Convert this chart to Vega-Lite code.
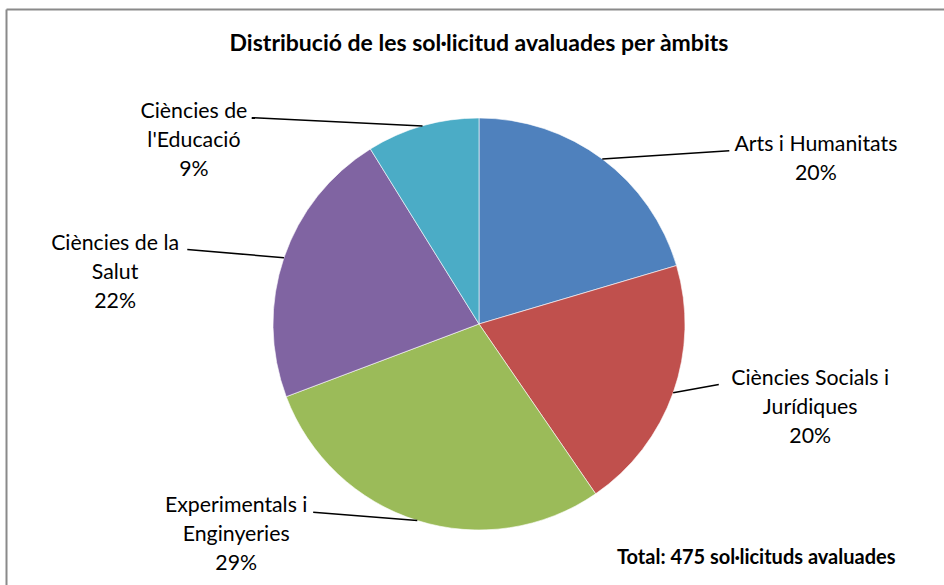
{
  "$schema": "https://vega.github.io/schema/vega-lite/v6.json",
  "width": 938,
  "height": 576,
  "autosize": {"type": "none"},
  "padding": {"left": 6, "top": 9, "right": 0, "bottom": 0},
  "background": "white",
  "config": {"view": {"stroke": null}, "font": "Lato"},
  "title": {
    "text": "Distribució de les sol·licitud avaluades per àmbits",
    "font": "Lato",
    "fontSize": 23,
    "fontWeight": "bold",
    "color": "black",
    "anchor": "middle",
    "baseline": "alphabetic",
    "offset": -65,
    "dx": 4
  },
  "data": {
    "values": [
      {"ambit": "Arts i Humanitats", "etiqueta": "Arts i Humanitats", "n": 97, "ordre": 1},
      {"ambit": "Ciències Socials i Jurídiques", "etiqueta": "Ciències Socials i\nJurídiques", "n": 95, "ordre": 2},
      {"ambit": "Experimentals i Enginyeries", "etiqueta": "Experimentals i\nEnginyeries", "n": 137, "ordre": 3},
      {"ambit": "Ciències de la Salut", "etiqueta": "Ciències de la\nSalut", "n": 104, "ordre": 4},
      {"ambit": "Ciències de l'Educació", "etiqueta": "Ciències de\nl'Educació", "n": 42, "ordre": 5}
    ]
  },
  "transform": [
    {"joinaggregate": [{"op": "sum", "field": "n", "as": "total"}]},
    {"window": [{"op": "sum", "field": "n", "as": "cum"}], "sort": [{"field": "ordre", "order": "ascending"}], "frame": [null, 0]},
    {"calculate": "2 * PI * (datum.cum - datum.n / 2) / datum.total", "as": "a"},
    {"calculate": "sin(datum.a)", "as": "ex"},
    {"calculate": "cos(datum.a)", "as": "ey"},
    {"calculate": "datum.ex >= 0 ? 1 : -1", "as": "side"},
    {"calculate": "datum.ey >= 0 ? 0.674 + 0.453 * datum.ey : 0.55 - 0.345 * datum.ey", "as": "c"},
    {"calculate": "datum.ex + datum.side * datum.c", "as": "lx"},
    {"calculate": "datum.ey + 0.04", "as": "ly"},
    {"calculate": "length(split(datum.etiqueta, '\\n')[0])", "as": "nc"},
    {"calculate": "datum.ex + datum.side * (datum.c - (datum.nc * 4.8 + 5) / 206)", "as": "ex2"},
    {"calculate": "datum.etiqueta + '\\n' + format(datum.n / datum.total, '.0%')", "as": "txt"}
  ],
  "layer": [
    {
      "mark": {"type": "arc", "radius": 206, "stroke": "white", "strokeWidth": 0.6},
      "encoding": {
        "theta": {"field": "n", "type": "quantitative", "stack": true},
        "order": {"field": "ordre", "type": "quantitative"},
        "color": {
          "field": "ambit",
          "type": "nominal",
          "scale": {
            "domain": ["Arts i Humanitats", "Ciències Socials i Jurídiques", "Experimentals i Enginyeries", "Ciències de la Salut", "Ciències de l'Educació"],
            "range": ["#4F81BD", "#C0504D", "#9BBB59", "#8064A2", "#4BACC6"]
          },
          "legend": null
        },
        "x": {
          "datum": 0,
          "type": "quantitative",
          "scale": {"domain": [-2.2961, 2.2573], "nice": false, "zero": false},
          "axis": {"orient": "top", "domain": true, "domainColor": "#8a8a8a", "domainWidth": 2, "ticks": false, "labels": false, "grid": false, "title": null}
        },
        "y": {
          "datum": 0,
          "type": "quantitative",
          "scale": {"domain": [-1.267, 1.5291], "nice": false, "zero": false},
          "axis": {
            "orient": "left", "domain": true, "domainColor": "#8a8a8a", "domainWidth": 2, "ticks": false, "labels": false, "grid": false,
            "title": "Total: 475 sol·licituds avaluades",
            "titleAngle": 0, "titleX": 889, "titleY": 554, "titleAlign": "right", "titleBaseline": "alphabetic",
            "titleFont": "Lato", "titleFontSize": 20, "titleFontWeight": "bold", "titleColor": "black"
          }
        }
      }
    },
    {
      "mark": {"type": "rule", "color": "black", "strokeWidth": 1.5},
      "encoding": {
        "x": {"field": "ex", "type": "quantitative", "scale": {"domain": [-2.2961, 2.2573], "nice": false, "zero": false}},
        "y": {"field": "ey", "type": "quantitative", "scale": {"domain": [-1.267, 1.5291], "nice": false, "zero": false}},
        "x2": {"field": "ex2"},
        "y2": {"field": "ly"}
      }
    },
    {
      "mark": {"type": "text", "align": "center", "baseline": "alphabetic", "font": "Lato", "fontSize": 21.3, "lineHeight": 29, "lineBreak": "\n", "color": "black"},
      "encoding": {
        "x": {"field": "lx", "type": "quantitative", "scale": {"domain": [-2.2961, 2.2573], "nice": false, "zero": false}},
        "y": {"field": "ly", "type": "quantitative", "scale": {"domain": [-1.267, 1.5291], "nice": false, "zero": false}},
        "text": {"field": "txt"}
      }
    }
  ]
}
